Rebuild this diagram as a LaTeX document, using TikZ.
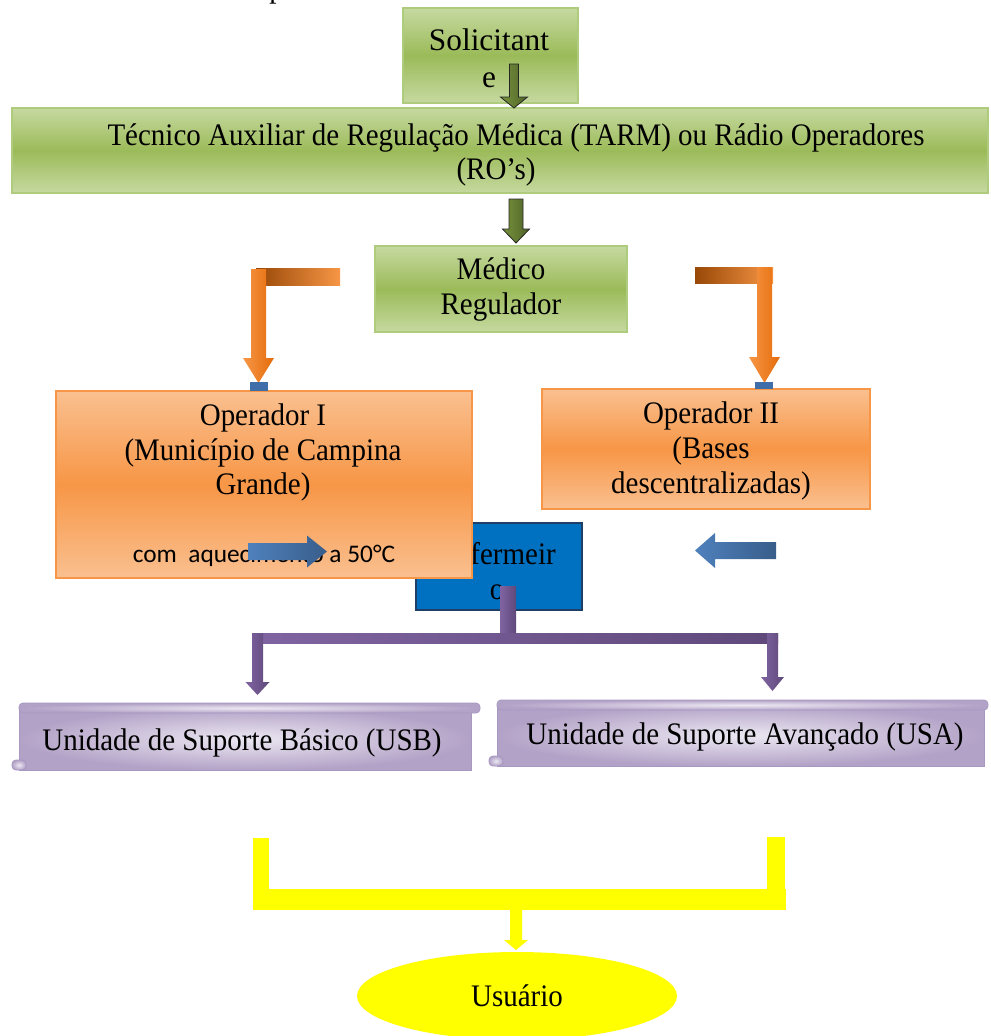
\documentclass[tikz,border=0pt]{standalone}
\usepackage{fontspec}
\setmainfont{Liberation Serif}[FakeStretch=0.925]
\newfontfamily\solfont{Liberation Serif}
\newfontfamily\calib{Carlito}
\usetikzlibrary{shapes.geometric}
\definecolor{gL}{HTML}{C6D9A0}
\definecolor{gD}{HTML}{9BBB59}
\definecolor{gB}{HTML}{AECB7E}
\definecolor{oL}{HTML}{FAC090}
\definecolor{oD}{HTML}{F79646}
\definecolor{oA}{HTML}{E46C0A}
\definecolor{oBr}{HTML}{984807}
\definecolor{enfB}{HTML}{0070C0}
\definecolor{enfE}{HTML}{1F3F66}
\definecolor{bA}{HTML}{4F81BD}
\definecolor{bB}{HTML}{385D8A}
\definecolor{pA}{HTML}{8064A2}
\definecolor{pB}{HTML}{5F497A}
\definecolor{sL}{HTML}{ECE8F2}
\definecolor{sD}{HTML}{B3A2C7}
\definecolor{sE}{HTML}{A798C2}
\definecolor{agL}{HTML}{77933C}
\definecolor{agD}{HTML}{4F6228}
\definecolor{yel}{HTML}{FFFF00}
\definecolor{sq}{HTML}{3F6EA8}
\newdimen\pxu \pxu=0.75pt
\newcommand\downarr[7]{%
 \path[#7] ({#1-#5},#2) -- ({#1+#5},#2) -- ({#1+#5},#3) -- ({#1+#6},#3) -- (#1,#4) -- ({#1-#6},#3) -- ({#1-#5},#3) -- cycle;}
\newcommand\horarr[7]{%
 \path[#7] (#2,{#1-#5}) -- (#3,{#1-#5}) -- (#3,{#1-#6}) -- (#4,#1) -- (#3,{#1+#6}) -- (#3,{#1+#5}) -- (#2,{#1+#5}) -- cycle;}
\begin{document}
\begin{tikzpicture}[x=0.75pt,y=-0.75pt,
  txt/.style={font=\fontsize{23.5}{26}\selectfont, align=center, inner sep=0pt, text=black},
  gbox/.style={draw=gB, line width=2pt, top color=gL, bottom color=gL, middle color=gD, inner sep=0pt},
  obox/.style={draw=oD, line width=1.5pt, top color=oL, bottom color=oL, middle color=oD, inner sep=0pt},
  enfbox/.style={draw=enfE, line width=1.5pt, fill=enfB, inner sep=0pt},
  scrollfill/.style={draw=sE, line width=0.6pt, inner color=sL, outer color=sD},
  garrow/.style={draw=black!85, line width=0.6pt, left color=agL, right color=agD},
  oarrow/.style={left color=oD, right color=oA},
  obar/.style={left color=oBr, right color=oD},
  barrow/.style={left color=bA, right color=bB},
  parrow/.style={left color=pA, right color=pB},
  yfill/.style={fill=yel}]
\path[use as bounding box] (0,0) rectangle (990,1036);

% stray fragment at top
\node[txt, anchor=base west] (pfrag) at (269,-3) {p};

% Solicitante
\node[gbox, minimum width=175\pxu, minimum height=95\pxu] (sol) at (490.5,55.5) {};
\node[txt, font=\solfont\fontsize{23.5}{28}\selectfont] (solT) at (489,58) {Solicitant\\e};

% TARM
\node[gbox, minimum width=976\pxu, minimum height=85\pxu] (tarm) at (500,150.5) {};
\node[txt] (tarm1) at (516,138) {Técnico Auxiliar de Regulação Médica (TARM) ou Rádio Operadores};
\node[txt] (tarm2) at (496,172) {(RO’s)};

% green arrows
\downarr{514}{64}{97}{108}{4.5}{13.5}{garrow}
\downarr{516}{199}{229}{243}{7}{13.5}{garrow}

% Medico
\node[gbox, minimum width=252\pxu, minimum height=86\pxu] (med) at (501,289) {};
\node[txt] (medT) at (501,289.5) {Médico\\Regulador};

% Enfermeiro (behind Operador I)
\node[enfbox, minimum width=166\pxu, minimum height=87\pxu] (enf) at (499,566.5) {};
\node[txt] (enfT) at (497,571) {Enfermeir\\o};

% Operador I
\node[obox, minimum width=416\pxu, minimum height=187\pxu] (op1) at (263.5,484.5) {};
\node[txt] (op1T) at (263,452.5) {Operador I\\(Município de Campina\\Grande)};
\node[anchor=base, inner sep=0pt, font=\calib\fontsize{19}{22}\selectfont] (op1S) at (264,562) {com\ \ aquecimento a 50°C};

% Operador II
\node[obox, minimum width=328\pxu, minimum height=120\pxu] (op2) at (705.5,449) {};
\node[txt] (op2T) at (711,451) {Operador II\\(Bases\\descentralizadas)};

% blue arrows
\horarr{551.5}{248}{307}{327}{8.5}{16}{barrow}
\horarr{550.5}{776}{715}{695}{8.5}{17.5}{barrow}

% purple connectors
\path[parrow] (500,586) rectangle (516,638);
\path[parrow] (252,633) rectangle (778,643);
\downarr{257.5}{633}{682}{695}{5.5}{12}{parrow}
\downarr{772.5}{633}{677}{691}{5.5}{11.5}{parrow}

% orange L arrows
\path[obar] (256,268) rectangle (340,285);
\downarr{258.5}{269}{358}{383}{7.5}{15.5}{oarrow}
\fill[sq] (250,382) rectangle (268,391);
\path[obar] (695,267) rectangle (773,283);
\downarr{764.5}{267}{357}{383}{7.5}{15.5}{oarrow}
\fill[sq] (755,382) rectangle (773,389);

% scrolls
\path[scrollfill] (19,708) rectangle (471,770);
\path[scrollfill, rounded corners=4\pxu] (19,703) rectangle (480,713);
\path[scrollfill, rounded corners=4\pxu] (12,760) rectangle (26,770);
\node[txt] (usb) at (242,743) {Unidade de Suporte Básico (USB)};

\path[scrollfill] (497,705) rectangle (984,766);
\path[scrollfill, rounded corners=4\pxu] (497,700) rectangle (988,710);
\path[scrollfill, rounded corners=4\pxu] (489,756) rectangle (503,766);
\node[txt] (usa) at (745,737) {Unidade de Suporte Avançado (USA)};

% yellow bracket
\path[yfill] (253,838) rectangle (269,910);
\path[yfill] (767,837) rectangle (785,910);
\path[yfill] (253,889) rectangle (786,910);
\downarr{516}{905}{940}{950}{6}{12}{yfill}

% Usuario
\node[ellipse, fill=yel, minimum width=320\pxu, minimum height=88\pxu, inner sep=0pt] (usu) at (517,996) {};
\node[txt] (usuT) at (517,996) {Usuário};
\end{tikzpicture}
\end{document}
